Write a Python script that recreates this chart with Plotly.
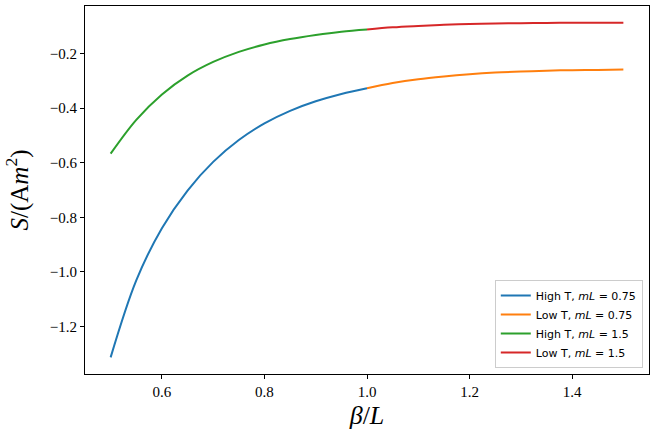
import plotly.graph_objects as go

# Values
x_high = [0.50, 0.55, 0.60, 0.65, 0.70, 0.75, 0.80, 0.85, 0.90, 0.95, 1.00]
s_high_075 = [-1.313, -1.031, -0.840, -0.702, -0.597, -0.517, -0.456, -0.410, -0.375, -0.348, -0.327]
s_high_15 = [-0.567, -0.443, -0.350, -0.281, -0.231, -0.194, -0.167, -0.147, -0.132, -0.120, -0.112]

x_low = [1.00, 1.05, 1.10, 1.15, 1.20, 1.25, 1.30, 1.35, 1.40, 1.45, 1.50]
s_low_075 = [-0.327, -0.308, -0.294, -0.284, -0.276, -0.270, -0.266, -0.263, -0.261, -0.260, -0.259]
s_low_15 = [-0.112, -0.104, -0.099, -0.095, -0.092, -0.090, -0.089, -0.088, -0.0875, -0.087, -0.087]

series = [
    ("High T, <i>mL</i> = 0.75", x_high, s_high_075, "#1f77b4"),
    ("Low T, <i>mL</i> = 0.75", x_low, s_low_075, "#ff7f0e"),
    ("High T, <i>mL</i> = 1.5", x_high, s_high_15, "#2ca02c"),
    ("Low T, <i>mL</i> = 1.5", x_low, s_low_15, "#d62728"),
]

fig = go.Figure()
for name, xs, ys, col in series:
    fig.add_trace(go.Scatter(x=xs, y=ys, mode="lines", name=name,
                             line=dict(color=col, width=2, shape="spline", smoothing=1.0)))

serif = "Liberation Serif, DejaVu Serif, serif"
axis_common = dict(showgrid=False, zeroline=False, showline=True, linecolor="black",
                   linewidth=1, mirror=True, ticks="outside", ticklen=4, tickcolor="black",
                   tickfont=dict(family=serif, size=15, color="black"))

fig.update_layout(
    width=657, height=437,
    margin=dict(l=85, r=8, t=6, b=63),
    paper_bgcolor="white", plot_bgcolor="white",
    xaxis=dict(range=[0.45, 1.55], tickvals=[0.6, 0.8, 1.0, 1.2, 1.4],
               ticktext=["0.6", "0.8", "1.0", "1.2", "1.4"],
               title=dict(text="<i>β</i>/<i>L</i>", standoff=6,
                          font=dict(family=serif, size=26, color="black")),
               **axis_common),
    yaxis=dict(range=[-1.374, -0.026], tickvals=[-1.2, -1.0, -0.8, -0.6, -0.4, -0.2],
               ticktext=["−1.2", "−1.0", "−0.8", "−0.6", "−0.4", "−0.2"],
               title=dict(text="<i>S</i>/(A<i>m</i><sup>2</sup>)", standoff=14,
                          font=dict(family=serif, size=25, color="black")),
               **axis_common),
    legend=dict(x=0.989, y=0.016, xanchor="right", yanchor="bottom",
                bgcolor="rgba(255,255,255,0.8)", bordercolor="#cccccc", borderwidth=1,
                font=dict(family="DejaVu Sans, sans-serif", size=11, color="black"),
                tracegroupgap=0, itemwidth=30),
    showlegend=True,
)

fig.write_html("out.html")
